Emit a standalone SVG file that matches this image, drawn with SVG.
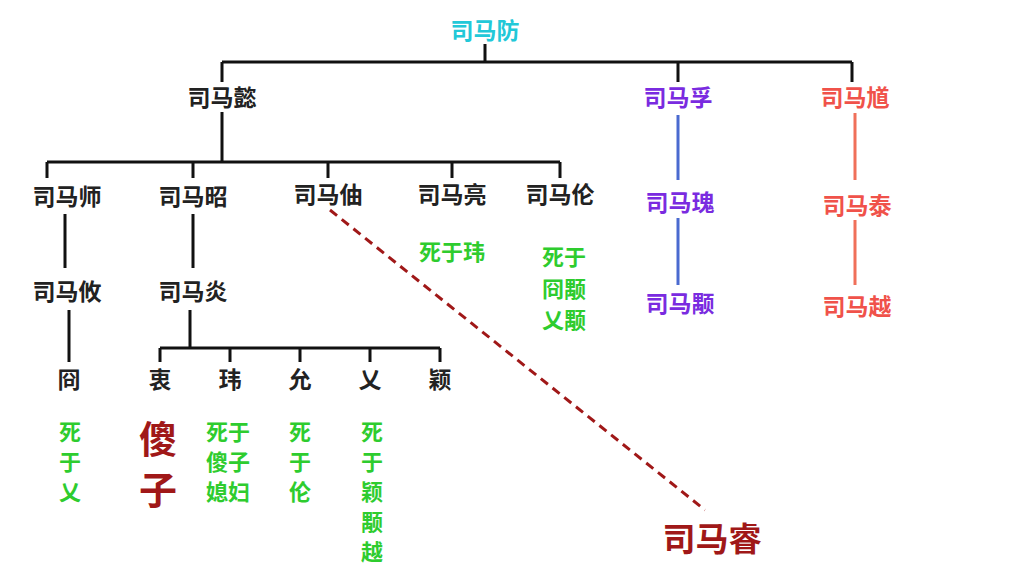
<svg xmlns="http://www.w3.org/2000/svg" width="1024" height="568" viewBox="0 0 1024 568">
<style>
text{font-family:"Noto Sans CJK SC","Noto Sans",sans-serif;font-weight:bold;text-anchor:middle;dominant-baseline:central}
.n{font-size:23px;fill:#222}
.g{font-size:22px;fill:#2ecc2e}
.k{stroke:#111;stroke-width:3;fill:none}
</style>
<rect width="1024" height="568" fill="#fff"/>
<g id="connectors">
<path class="k" d="M485 44V62M222 62H852M222 62V82M678 62V82M852 62V82M222 112V162M47 162H560M47 162V178M193 162V178M328 162V178M452 162V178M560 162V178M65 214V268M69 310V362M193 214V268M190 310V348M160 348H440M160 348V362M230 348V362M300 348V362M370 348V362M440 348V362"/>
<path d="M678 115V180M678 218V285" stroke="#4a6ad0" stroke-width="3"/>
<path d="M855 113V180M855 220V285" stroke="#f0705a" stroke-width="3"/>
<path d="M330 210L705 510" stroke="#a01818" stroke-width="3" stroke-dasharray="9,6"/>
</g>
<g id="n-fang"><text x="485" y="29" class="n" style="fill:#22c8d8">司马防</text></g>
<g id="n-yi"><text x="222" y="96" class="n">司马懿</text></g>
<g id="n-fu"><text x="678" y="96" class="n" style="fill:#7a2be0">司马孚</text></g>
<g id="n-kui"><text x="855" y="96" class="n" style="fill:#f0524a">司马馗</text></g>
<g id="n-shi"><text x="67" y="195" class="n">司马师</text></g>
<g id="n-zhao"><text x="193" y="195" class="n">司马昭</text></g>
<g id="n-zhou"><text x="328" y="193" class="n">司马伷</text></g>
<g id="n-liang"><text x="452" y="193" class="n">司马亮</text></g>
<g id="n-lun"><text x="560" y="193" class="n">司马伦</text></g>
<g id="n-gui"><text x="680" y="201" class="n" style="fill:#7a2be0">司马瑰</text></g>
<g id="n-yong"><text x="680" y="302" class="n" style="fill:#7a2be0">司马颙</text></g>
<g id="n-tai"><text x="857" y="204" class="n" style="fill:#f0524a">司马泰</text></g>
<g id="n-yue"><text x="857" y="305" class="n" style="fill:#f0524a">司马越</text></g>
<g id="n-you"><text x="67" y="290" class="n">司马攸</text></g>
<g id="n-yan"><text x="193" y="290" class="n">司马炎</text></g>
<g id="n-jiong"><text x="69" y="378" class="n">冏</text></g>
<g id="n-zhong"><text x="160" y="378" class="n">衷</text></g>
<g id="n-wei"><text x="230" y="378" class="n">玮</text></g>
<g id="n-yun"><text x="300" y="378" class="n">允</text></g>
<g id="n-ai"><text x="370" y="378" class="n">乂</text></g>
<g id="n-ying"><text x="440" y="378" class="n">颖</text></g>
<g id="n-rui"><text x="712" y="537" style="font-size:33px;fill:#a01818">司马睿</text></g>
<g id="notes">
<text class="g" x="70" y="430">死</text><text class="g" x="70" y="460">于</text><text class="g" x="70" y="490">乂</text>
<text x="158" y="436" style="font-size:38px;fill:#a01818">傻</text><text x="158" y="487" style="font-size:38px;fill:#a01818">子</text>
<text class="g" x="228" y="430">死于</text><text class="g" x="228" y="460">傻子</text><text class="g" x="228" y="490">媳妇</text>
<text class="g" x="300" y="430">死</text><text class="g" x="300" y="460">于</text><text class="g" x="300" y="490">伦</text>
<text class="g" x="372" y="430">死</text><text class="g" x="372" y="460">于</text><text class="g" x="372" y="490">颖</text><text class="g" x="372" y="520">颙</text><text class="g" x="372" y="550">越</text>
<text class="g" x="452" y="250">死于玮</text>
<text class="g" x="564" y="255">死于</text><text class="g" x="564" y="287">冏颙</text><text class="g" x="564" y="318">乂颙</text>
</g>
</svg>
